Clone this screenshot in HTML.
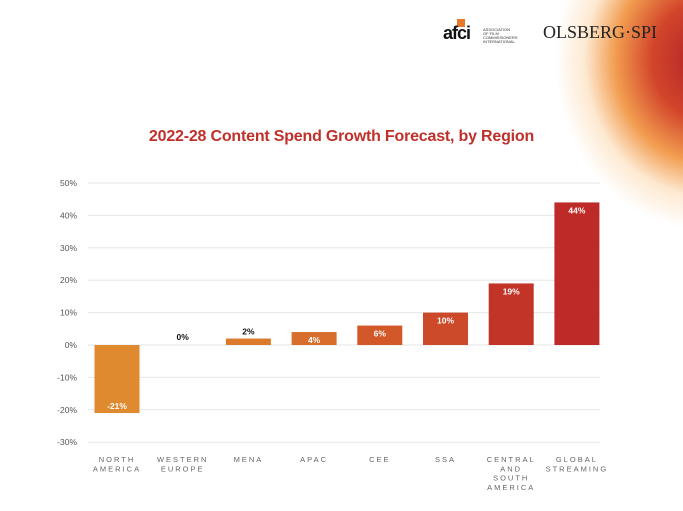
<!DOCTYPE html>
<html><head><meta charset="utf-8"><style>
body{margin:0;width:683px;height:511px;overflow:hidden;background:#fff;font-family:"Liberation Sans",sans-serif}
#bg{position:absolute;left:0;top:0;width:683px;height:511px;
background:radial-gradient(ellipse 150px 170px at 705px 60px,#b01e2a 0%,#d2452a 35%,rgba(240,140,50,0.85) 60%,rgba(250,200,140,0.4) 80%,rgba(255,255,255,0) 100%)}
.logo{position:absolute}
</style></head><body>
<div id="bg"></div>
<div class="logo" style="left:443px;top:19px;">
<div style="position:absolute;left:14px;top:0;width:8px;height:8px;background:#e8782a"></div>
<div style="position:absolute;left:0;top:4px;font:bold 18px 'Liberation Sans',sans-serif;color:#111;letter-spacing:-1px">afci</div>
<div style="position:absolute;left:40px;top:9px;font:4px 'Liberation Sans',sans-serif;color:#333;line-height:4px;width:32px">ASSOCIATION OF FILM COMMISSIONERS INTERNATIONAL</div>
</div>
<div class="logo" style="left:543px;top:22px;font:18px 'Liberation Serif',serif;color:#222">OLSBERG·SPI</div>
<div style="position:absolute;left:0;width:683px;top:128px;text-align:center;font:bold 16px 'Liberation Sans',sans-serif;color:#c0302a;letter-spacing:-0.2px">2022-28 Content Spend Growth Forecast, by Region</div>
<svg id="chart" width="683" height="511" style="position:absolute;left:0;top:0"></svg>
<script>
const categories=[["NORTH","AMERICA"],["WESTERN","EUROPE"],["MENA"],["APAC"],["CEE"],["SSA"],["CENTRAL","AND","SOUTH","AMERICA"],["GLOBAL","STREAMING"]];
const values=[-21,0,2,4,6,10,19,44];
const valueLabels=["-21%","0%","2%","4%","6%","10%","19%","44%"];
const ticks=[50,40,30,20,10,0,-10,-20,-30];
const colors=["#e08a30","#e08a30","#dc7a2c","#d86e2c","#d2582a","#cc4a2a","#c23328","#bd2a28"];
const NS="http://www.w3.org/2000/svg",svg=document.getElementById('chart');
const y=v=>345-v*3.24, x=i=>117+i*65.7, bw=45;
function mk(t,a){const e=document.createElementNS(NS,t);for(const k in a)e.setAttribute(k,a[k]);svg.appendChild(e);return e;}
ticks.forEach(t=>{
 const l=mk('line',{x1:88,x2:600,y1:y(t),y2:y(t),stroke:'#e6e6e6','stroke-width':1});
 
 
 const tx=mk('text',{x:77,y:y(t)+3,'text-anchor':'end','font-size':8.5,fill:'#555','font-family':'Liberation Sans'});
 tx.textContent=t+'%';
 
 
});
values.forEach((v,i)=>{
 const top=y(Math.max(v,0)),h=Math.abs(y(v)-y(0));
 const r=mk('rect',{x:x(i)-bw/2,y:top,width:bw,height:h,fill:colors[i]});
 
 
 const inside=Math.abs(v)>=4;
 let ly;
 if(v<0) ly=y(v)-4; else if(inside) ly=top+11; else ly=top-4;
 if(v===0) ly=y(0)-5;
 const t=mk('text',{x:x(i),y:ly,'text-anchor':'middle','font-size':8.5,'font-weight':'bold',fill:inside?'#fff':'#111','font-family':'Liberation Sans'});
 t.textContent=valueLabels[i];
 
 
 categories[i].forEach((w,j)=>{
  const c=mk('text',{x:x(i),y:462+j*9.3,'text-anchor':'middle','font-size':7.5,fill:'#666','letter-spacing':2,'font-family':'Liberation Sans'});
  c.textContent=w;
  
  
 });
});
</script>
</body></html>
